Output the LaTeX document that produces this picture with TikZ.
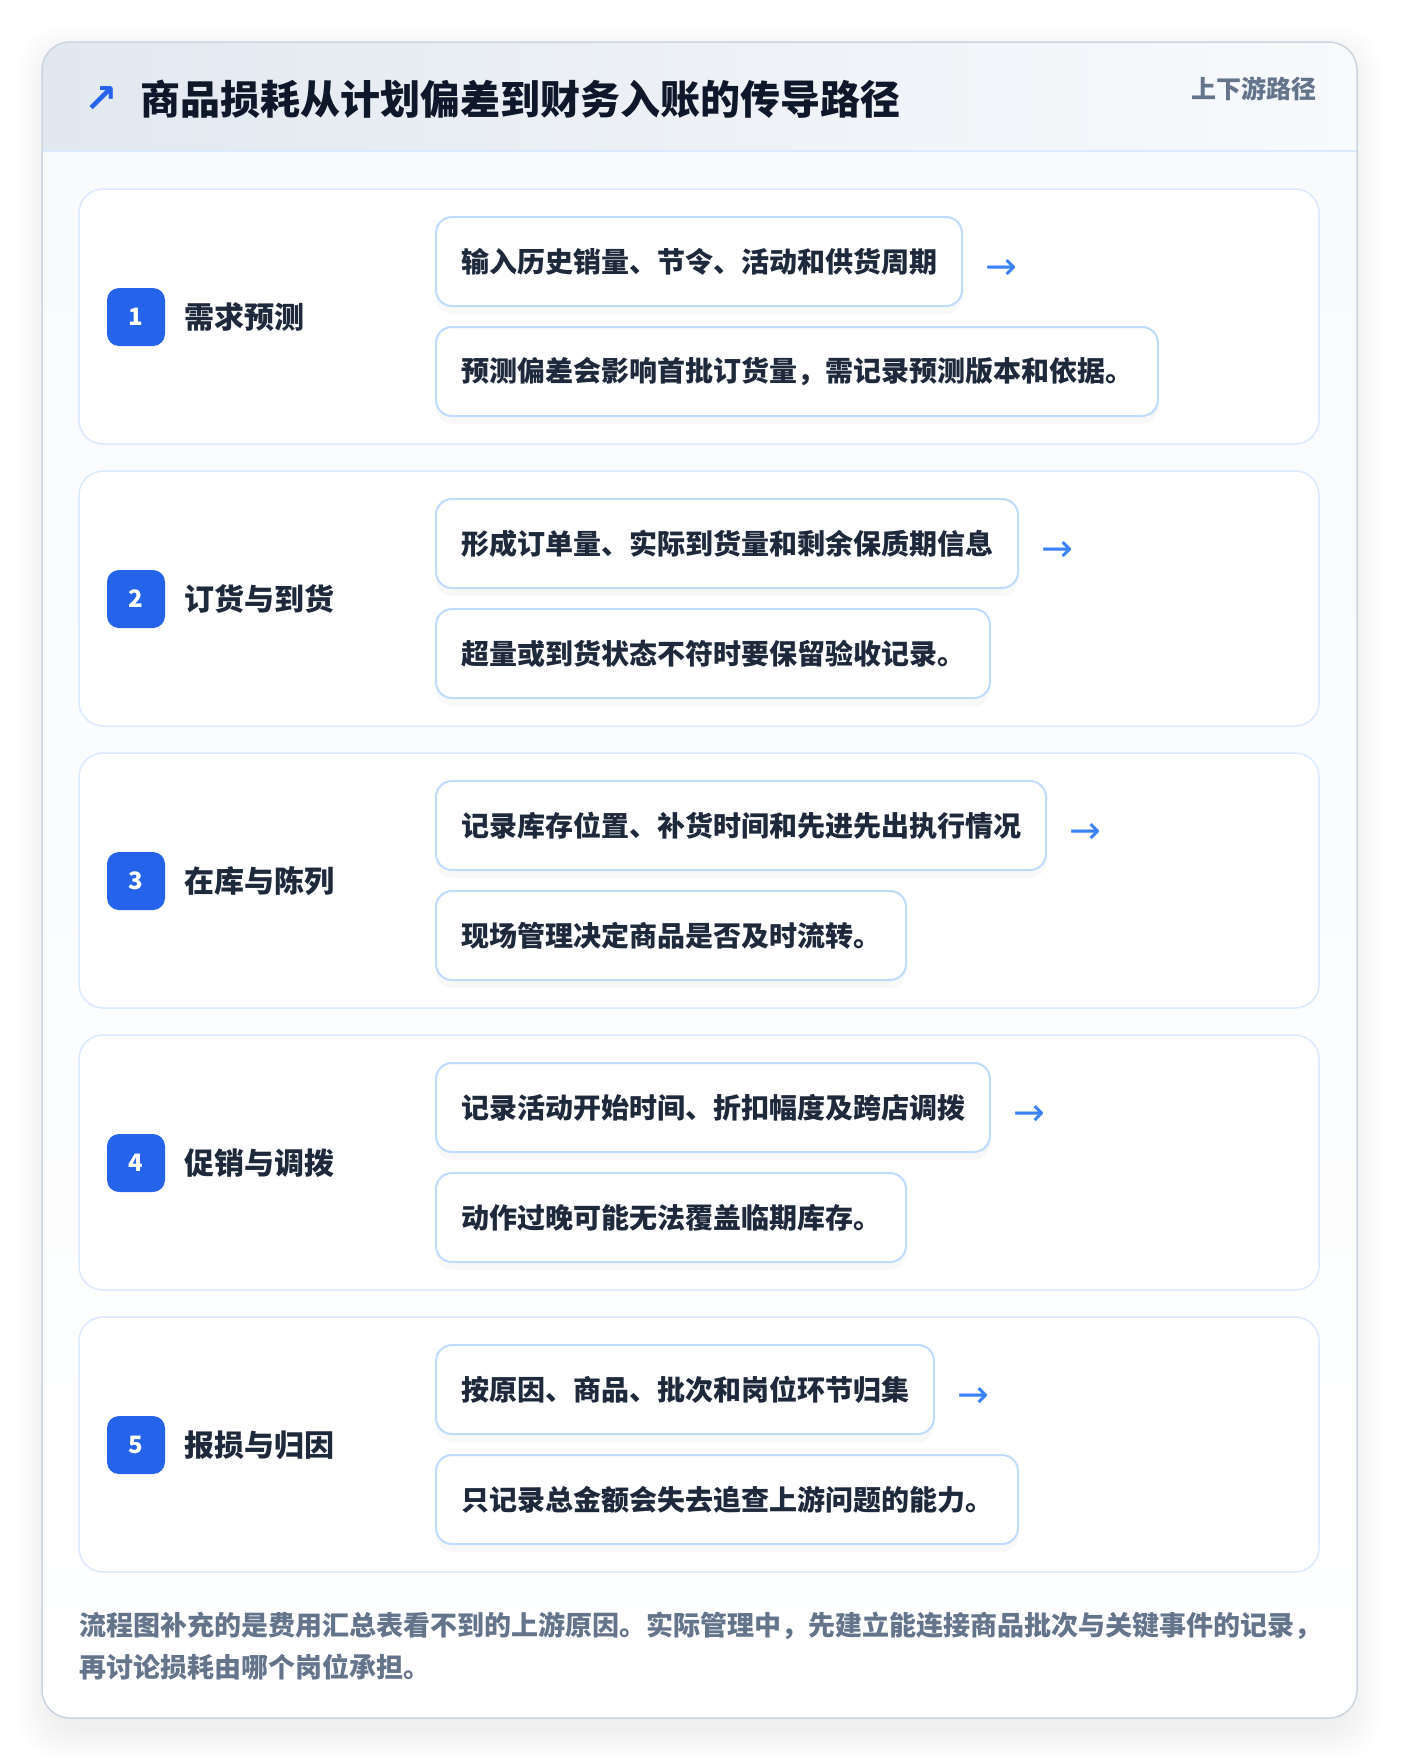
\documentclass[tikz,border=0pt]{standalone}
\usepackage{fontspec}
\setmainfont{Noto Sans CJK SC}
\newfontfamily\symfont{DejaVu Sans}
\usetikzlibrary{shadows}
\definecolor{inkdark}{HTML}{0F172A}
\definecolor{ink}{HTML}{1E293B}
\definecolor{slate}{HTML}{64748B}
\definecolor{accent}{HTML}{2563EB}
\definecolor{arrowblue}{HTML}{3B82F6}
\definecolor{cardline}{HTML}{DBEAFE}
\definecolor{boxline}{HTML}{BFDBFE}
\definecolor{frameline}{HTML}{CBD5E1}
\definecolor{bodybg}{HTML}{F8FAFC}
\definecolor{headleft}{HTML}{E2E8F0}
\definecolor{headright}{HTML}{F8FAFC}
\tikzset{
  stepcard/.style={draw=cardline, line width=1.5pt, fill=white, rounded corners=24pt,
    minimum width=1240pt, minimum height=255pt, inner sep=0pt},
  badge/.style={fill=accent, text=white, rounded corners=12pt, minimum size=58pt,
    inner sep=0pt, font=\fontsize{24}{24}\selectfont\bfseries},
  steplabel/.style={anchor=west, inner sep=0pt, text=ink,
    font=\fontsize{30}{36}\selectfont\bfseries},
  infobox/.style={draw=boxline, line width=2pt, fill=white, rounded corners=16pt,
    anchor=west, minimum height=89pt, inner xsep=25pt, inner ysep=0pt, text=ink,
    font=\fontsize{28}{34}\selectfont\bfseries,
    drop shadow={opacity=0.05, shadow xshift=0pt, shadow yshift=-8pt}},
  nextarrow/.style={anchor=west, inner sep=0pt, text=arrowblue,
    font=\symfont\fontsize{38}{38}\selectfont}
}
\begin{document}
\begin{tikzpicture}[x=1pt, y=-1pt]
\useasboundingbox (0,0) rectangle (1400,1764);
\fill[white] (0,0) rectangle (1400,1764);
\foreach \s in {2,4,...,30}{
  \fill[black, opacity=0.004, rounded corners=40pt] (42-\s+6,56-\s) rectangle (1357+\s-6,1730+\s);
}
\begin{scope}
\clip[rounded corners=28pt] (42,42) rectangle (1357,1718);
\shade[top color=bodybg, bottom color=white] (42,151) rectangle (1357,1718);
\shade[left color=headleft, right color=headright] (42,42) rectangle (1357,151);
\end{scope}
\draw[cardline, line width=1.5pt] (42,151) -- (1357,151);
\draw[frameline, line width=1.5pt, rounded corners=28pt] (42,42) rectangle (1357,1718);

\node[anchor=west, inner sep=0pt, text=accent, font=\symfont\fontsize{40}{40}\selectfont\bfseries] (icon) at (84,100) {↗};
\node[anchor=west, inner sep=0pt, text=inkdark, font=\fontsize{40}{48}\selectfont\bfseries] (title) at (140,99) {商品损耗从计划偏差到财务入账的传导路径};
\node[anchor=east, inner sep=0pt, text=slate, font=\fontsize{25}{30}\selectfont\bfseries] (tag) at (1317,89) {上下游路径};

\foreach \n/\head/\first/\second in {
  1/需求预测/输入历史销量、节令、活动和供货周期/预测偏差会影响首批订货量，需记录预测版本和依据。,
  2/订货与到货/形成订单量、实际到货量和剩余保质期信息/超量或到货状态不符时要保留验收记录。,
  3/在库与陈列/记录库存位置、补货时间和先进先出执行情况/现场管理决定商品是否及时流转。,
  4/促销与调拨/记录活动开始时间、折扣幅度及跨店调拨/动作过晚可能无法覆盖临期库存。,
  5/报损与归因/按原因、商品、批次和岗位环节归集/只记录总金额会失去追查上游问题的能力。}{
  \pgfmathsetmacro{\cardtop}{189+282*(\n-1)}
  \node[stepcard] (card\n) at (699,\cardtop+127.5) {};
  \node[badge] (badge\n) at (136,\cardtop+128) {\n};
  \node[steplabel] (label\n) at ([xshift=19pt]badge\n.east) {\head};
  \node[infobox] (top\n) at (435,\cardtop+72.5) {\first};
  \node[infobox] (bot\n) at (435,\cardtop+182.5) {\second};
  \node[nextarrow] (arr\n) at ([xshift=22pt,yshift=-8pt]top\n.east) {→};
}

\node[anchor=north west, inner sep=0pt, align=left, text=slate,
  font=\fontsize{27}{42}\selectfont\bfseries] (note) at (79,1612)
  {流程图补充的是费用汇总表看不到的上游原因。实际管理中，先建立能连接商品批次与关键事件的记录，\\再讨论损耗由哪个岗位承担。};
\end{tikzpicture}
\end{document}
